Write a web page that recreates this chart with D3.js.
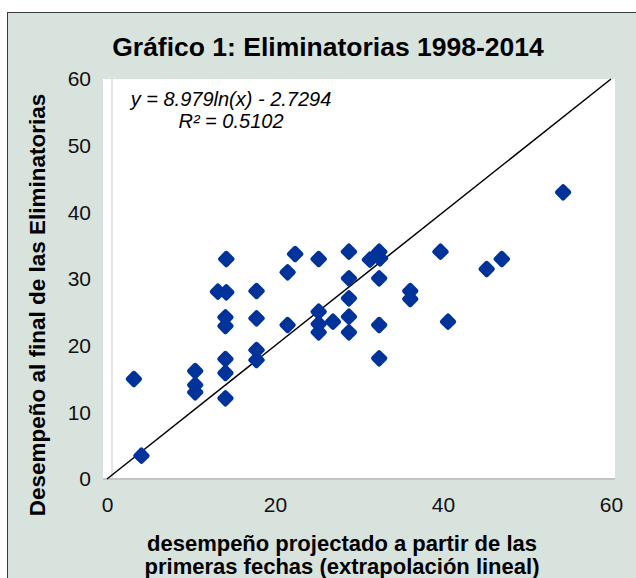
<!DOCTYPE html>
<html>
<head>
<meta charset="utf-8">
<script src="https://cdn.jsdelivr.net/npm/d3@7"></script>
<style>
  html, body { margin: 0; padding: 0; background: #d9e3de; }
  svg { display: block; font-family: "Liberation Sans", Arial, sans-serif; }
</style>
</head>
<body>
<svg id="chart" width="636" height="578"></svg>
<script>
// ---- data ----
const xValues = [3.2, 4.1, 10.5, 10.5, 10.5, 13.2, 14.2, 14.2, 14.1, 14.1, 14.1, 14.1, 14.1,
  17.8, 17.8, 17.8, 17.8, 21.5, 21.5, 22.4, 25.2, 25.2, 25.2, 25.2, 26.9,
  28.8, 28.8, 28.8, 28.8, 28.8, 31.3, 32.4, 32.5, 32.4, 32.4, 32.4,
  36.1, 36.1, 39.7, 40.6, 45.2, 47.0, 54.3];
const yValues = [15.0, 3.5, 16.2, 14.1, 13.0, 28.1, 28.0, 33.0, 24.25, 22.95, 18.0, 15.9, 12.1,
  28.2, 24.1, 19.35, 17.85, 31.0, 23.1, 33.75, 33.0, 25.1, 23.25, 22.0, 23.6,
  34.1, 30.1, 27.1, 24.35, 22.0, 32.9, 34.1, 33.1, 30.1, 23.1, 18.1,
  28.2, 27.0, 34.1, 23.6, 31.5, 33.0, 43.0];
const xTicks = [0, 20, 40, 60];
const yTicks = [0, 10, 20, 30, 40, 50, 60];
const refLine = [[0, 0], [60, 60]];
const titleText = "Gráfico 1: Eliminatorias 1998-2014";
const yTitle = "Desempeño al final de las Eliminatorias";
const xTitleLines = ["desempeño projectado a partir de las", "primeras fechas (extrapolación lineal)"];
const equationLines = ["y = 8.979ln(x) - 2.7294", "R² = 0.5102"];

// ---- drawing ----
const svg = d3.select("#chart");
const W = 636, H = 578;

// outer frame
svg.append("rect").attr("x", 0).attr("y", 0).attr("width", W).attr("height", H).attr("fill", "#ffffff");
svg.append("rect").attr("x", 7.5).attr("y", 12.5).attr("width", 700).attr("height", 700)
  .attr("fill", "#d9e3de").attr("stroke", "#3a3a3a").attr("stroke-width", 1);

const x = d3.scaleLinear().domain([0, 60]).range([107, 611]);
const y = d3.scaleLinear().domain([0, 60]).range([479, 79]);

// plot area
svg.append("rect").attr("x", 103).attr("y", 79).attr("width", 512).attr("height", 400).attr("fill", "#ffffff");
svg.append("line").attr("x1", 112).attr("x2", 112).attr("y1", 79).attr("y2", 479)
  .attr("stroke", "#c8c8c8").attr("stroke-width", 1);
svg.append("line").attr("x1", 103).attr("x2", 615).attr("y1", 479).attr("y2", 479)
  .attr("stroke", "#c4c4c4").attr("stroke-width", 2);

// title
svg.append("text").attr("x", 328).attr("y", 56).attr("text-anchor", "middle")
  .attr("font-size", 26.5).attr("font-weight", "bold").attr("fill", "#000").text(titleText);

// axes
const xAxis = svg.append("g").attr("transform", "translate(0,479)")
  .call(d3.axisBottom(x).tickValues(xTicks).tickSize(0).tickPadding(18).tickFormat(d3.format("d")));
const yAxis = svg.append("g").attr("transform", "translate(107,0)")
  .call(d3.axisLeft(y).tickValues(yTicks).tickSize(0).tickPadding(16).tickFormat(d3.format("d")));
[xAxis, yAxis].forEach(g => {
  g.select(".domain").remove();
  g.selectAll("text").attr("font-size", 21).attr("fill", "#111")
    .attr("font-family", "'Liberation Sans', Arial, sans-serif");
});

// axis titles
svg.append("text").attr("transform", "translate(45,305) rotate(-90)").attr("text-anchor", "middle")
  .attr("font-size", 22.5).attr("font-weight", "bold").attr("fill", "#000").text(yTitle);
svg.selectAll("text.xt").data(xTitleLines).enter().append("text").attr("class", "xt")
  .attr("x", 342).attr("y", (d, i) => 551 + i * 23).attr("text-anchor", "middle")
  .attr("font-size", 22).attr("font-weight", "bold").attr("fill", "#000").text(d => d);

// reference line
svg.append("line")
  .attr("x1", x(refLine[0][0])).attr("y1", y(refLine[0][1]))
  .attr("x2", x(refLine[1][0])).attr("y2", y(refLine[1][1]))
  .attr("stroke", "#000").attr("stroke-width", 1.5);

// points
const pts = xValues.map((v, i) => ({ x: v, y: yValues[i] }));
svg.append("g").selectAll("rect").data(pts).enter().append("rect")
  .attr("x", -6.5).attr("y", -6.5).attr("width", 13).attr("height", 13).attr("rx", 2.5)
  .attr("fill", "#003399")
  .attr("transform", d => `translate(${x(d.x)},${y(d.y)}) rotate(45)`);

// equation label
svg.selectAll("text.eq").data(equationLines).enter().append("text").attr("class", "eq")
  .attr("x", 231).attr("y", (d, i) => 106 + i * 22).attr("text-anchor", "middle")
  .attr("font-size", 20).attr("font-style", "italic").attr("fill", "#000").text(d => d);
</script>
</body>
</html>
